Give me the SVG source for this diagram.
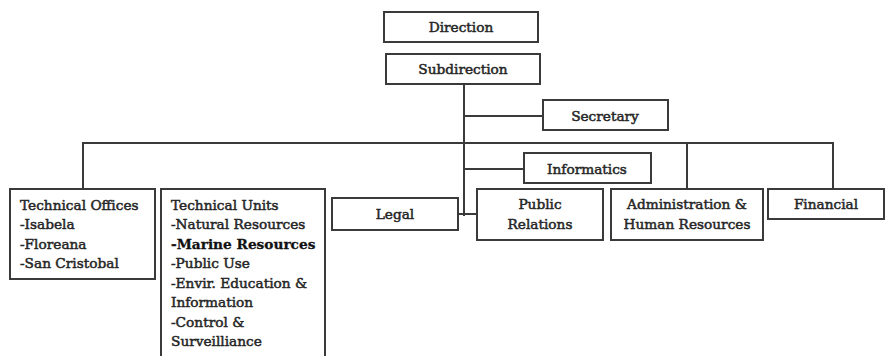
<svg xmlns="http://www.w3.org/2000/svg" width="888" height="356" viewBox="0 0 888 356">
<style>
.box{fill:#fff;stroke:#3a3a3a;stroke-width:2}
.ln{fill:none;stroke:#3a3a3a;stroke-width:2}
text{font-family:"DejaVu Serif","Liberation Serif",serif;font-size:13.7px;fill:#262626;stroke:#262626;stroke-width:0.5}
.c{text-anchor:middle}
.b{font-weight:bold;fill:#111;stroke:#111;stroke-width:0.3}
</style>
<rect width="888" height="356" fill="#fff"/>
<g id="connectors">
<path class="ln" d="M464 84 V216"/>
<path class="ln" d="M464 116 H543"/>
<path class="ln" d="M464 169 H524"/>
<path class="ln" d="M458 214 H477"/>
<path class="ln" d="M83 189 V143 H833 V189"/>
<path class="ln" d="M687 143 V189"/>
</g>
<g id="direction"><rect class="box" x="384" y="12" width="154" height="30"/><text class="c" x="461" y="32">Direction</text></g>
<g id="subdirection"><rect class="box" x="386" y="54" width="154" height="30"/><text class="c" x="463" y="74">Subdirection</text></g>
<g id="secretary"><rect class="box" x="543" y="100" width="125" height="30"/><text class="c" x="605" y="121">Secretary</text></g>
<g id="informatics"><rect class="box" x="524" y="153" width="127" height="30"/><text class="c" x="587" y="174">Informatics</text></g>
<g id="technical-offices"><rect class="box" x="10" y="189" width="145" height="90"/>
<text x="20" y="210">Technical Offices</text>
<text x="20" y="229">-Isabela</text>
<text x="20" y="249">-Floreana</text>
<text x="20" y="268">-San Cristobal</text></g>
<g id="technical-units"><rect class="box" x="161" y="189" width="164" height="180"/>
<text x="171" y="210">Technical Units</text>
<text x="171" y="229">-Natural Resources</text>
<text x="171" y="249" class="b">-Marine Resources</text>
<text x="171" y="268">-Public Use</text>
<text x="171" y="288">-Envir. Education &amp;</text>
<text x="171" y="307">Information</text>
<text x="171" y="327">-Control &amp;</text>
<text x="171" y="346">Surveilliance</text></g>
<g id="legal"><rect class="box" x="332" y="198" width="126" height="32"/><text class="c" x="395" y="219">Legal</text></g>
<g id="public-relations"><rect class="box" x="477" y="189" width="126" height="51"/><text class="c" x="540" y="209">Public</text><text class="c" x="540" y="229">Relations</text></g>
<g id="admin-hr"><rect class="box" x="611" y="189" width="152" height="51"/><text class="c" x="687" y="209">Administration &amp;</text><text class="c" x="687" y="229">Human Resources</text></g>
<g id="financial"><rect class="box" x="768" y="189" width="116" height="30"/><text class="c" x="826" y="209">Financial</text></g>
</svg>
